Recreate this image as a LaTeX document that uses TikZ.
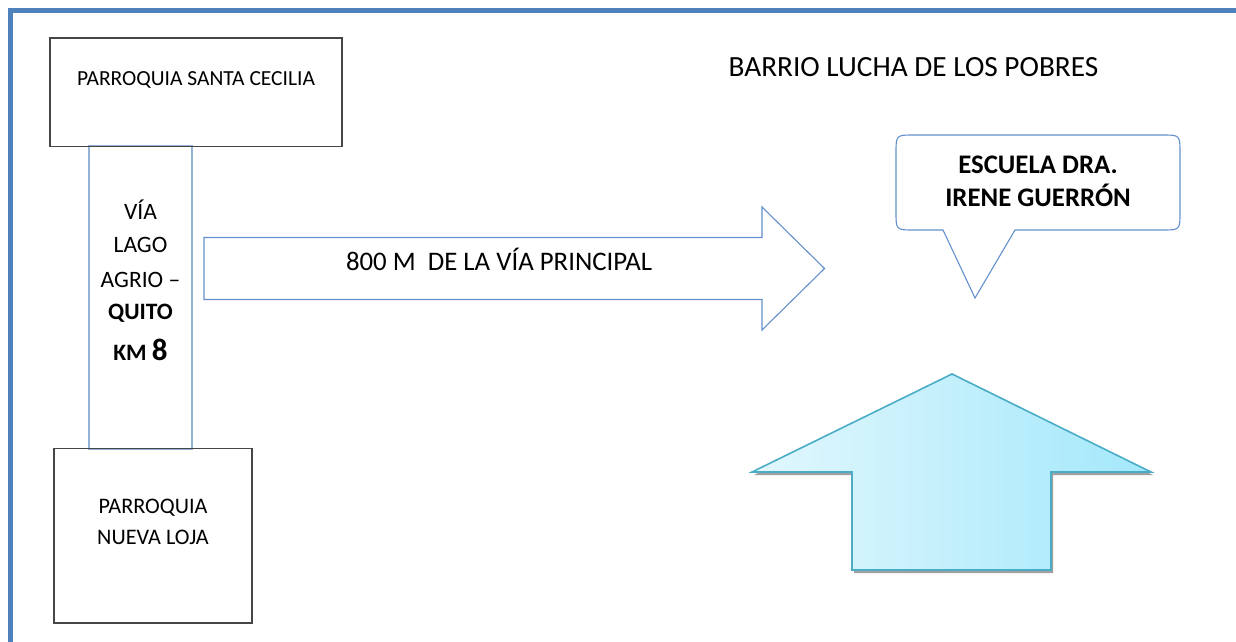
\documentclass[tikz,border=0pt]{standalone}
\usepackage{fontspec}
\setmainfont{Carlito}
\definecolor{frameblue}{RGB}{79,129,189}
\definecolor{roadblue}{RGB}{149,179,215}
\definecolor{arrowblue}{RGB}{100,145,205}
\definecolor{boxgray}{RGB}{70,70,70}
\definecolor{upstroke}{RGB}{75,172,198}
\definecolor{upleft}{RGB}{226,247,253}
\definecolor{upright}{RGB}{163,232,251}
\definecolor{shadowgray}{RGB}{160,160,160}
\begin{document}
\begin{tikzpicture}[x=1pt,y=-1pt,
  box/.style={draw=boxgray, line width=1.3pt, inner sep=0pt},
  road/.style={draw=roadblue, line width=1.4pt, inner sep=0pt},
  outline/.style={draw=arrowblue, line width=1.1pt, line join=miter},
  txt/.style={inner sep=0pt, anchor=base, font=\fontsize{21.5}{25}\selectfont},
  roadtxt/.style={txt, font=\fontsize{23.5}{28}\selectfont},
  bigtxt/.style={txt, font=\fontsize{26.8}{30}\selectfont},
  boldtxt/.style={txt, font=\fontsize{26.8}{30}\selectfont\bfseries}]
\useasboundingbox (0,0) rectangle (1236,642);
% frame
\draw[frameblue, line width=5pt, line join=miter] (10.5,642) -- (10.5,10.5) -- (1236,10.5);
% boxes and road
\node[road, minimum width=103pt, minimum height=303pt] (via) at (140.5,297.5) {};
\node[box, minimum width=292pt, minimum height=108.5pt] (sc) at (196,92.25) {};
\node[box, minimum width=198pt, minimum height=174.5pt] (nl) at (153,535.75) {};
\node[txt] (sctxt) at (196,85) {PARROQUIA SANTA CECILIA};
\node[txt, font=\fontsize{22.2}{26}\selectfont] (nl1) at (153,513.3) {PARROQUIA};
\node[txt, font=\fontsize{22.2}{26}\selectfont] (nl2) at (153,544) {NUEVA LOJA};
\node[roadtxt] (v1) at (140.5,219) {VÍA};
\node[roadtxt] (v2) at (140.5,252.7) {LAGO};
\node[roadtxt] (v3) at (140.5,287) {AGRIO –};
\node[roadtxt, font=\fontsize{23.5}{28}\selectfont\bfseries] (v4) at (140.5,319) {QUITO};
\node[roadtxt, font=\fontsize{23.5}{28}\selectfont\bfseries] (v5) at (140.5,360.7) {KM {\fontsize{31}{34}\selectfont 8}};
% right arrow
\draw[outline] (204,237.5) -- (762,237.5) -- (762,207) -- (824.5,268.5) -- (762,330) -- (762,299.5) -- (204,299.5) -- cycle;
\node[bigtxt] (dist) at (499,270) {800 M\ \ DE LA VÍA PRINCIPAL};
% title
\node[txt, font=\fontsize{29.3}{33}\selectfont] (title) at (913.5,76) {BARRIO LUCHA DE LOS POBRES};
% callout
\draw[outline] (943,230) -- (975,298) -- (1015,230) -- (1162,230)
  .. controls (1180,230) .. (1180,212) -- (1180,153)
  .. controls (1180,135) .. (1162,135) -- (914,135)
  .. controls (896,135) .. (896,153) -- (896,212)
  .. controls (896,230) .. (914,230) -- cycle;
\node[boldtxt] (esc1) at (1038,173.3) {ESCUELA DRA.};
\node[boldtxt] (esc2) at (1038,206) {IRENE GUERRÓN};
% up arrow
\fill[shadowgray, shift={(2,3)}] (952,374) -- (1151,472) -- (1051,472) -- (1051,570) -- (852,570) -- (852,472) -- (752,472) -- cycle;
\fill[left color=upleft, right color=upright] (952,374) -- (1151,472) -- (1051,472) -- (1051,570) -- (852,570) -- (852,472) -- (752,472) -- cycle;
\draw[upstroke, line width=1.6pt, line join=miter] (952,374) -- (1151,472) -- (1051,472) -- (1051,570) -- (852,570) -- (852,472) -- (752,472) -- cycle;
\end{tikzpicture}
\end{document}
